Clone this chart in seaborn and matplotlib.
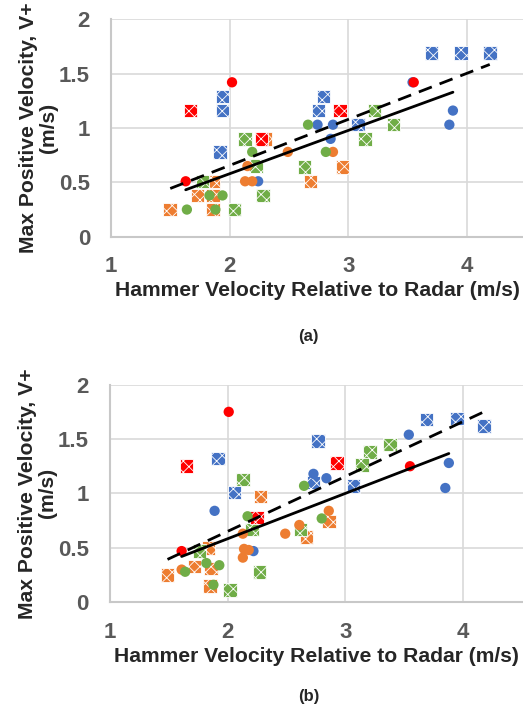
import numpy as np
import pandas as pd
import matplotlib.pyplot as plt
import seaborn as sns

sns.set_theme(style="white")
plt.rcParams['font.family'] = ['Liberation Sans', 'DejaVu Sans']
plt.rcParams['hatch.linewidth'] = 0.6

# colours of the four test groups
colors = {'blue': '#4472C4', 'orange': '#ED7D31', 'green': '#70AD47', 'red': '#FF0000'}

# ---- panel (a) data: circles and squares per group ----
a_circles = {
    'blue':   ([2.74, 2.87, 2.85, 3.88, 3.85, 3.54, 2.24], [1.03, 1.03, 0.90, 1.16, 1.03, 1.42, 0.51]),
    'orange': ([2.49, 2.87, 2.15, 2.13, 2.19], [0.78, 0.78, 0.65, 0.51, 0.51]),
    'green':  ([2.66, 2.81, 2.19, 1.83, 1.94, 1.64, 1.88], [1.03, 0.78, 0.78, 0.38, 0.38, 0.25, 0.25]),
    'red':    ([2.02, 3.55, 1.63], [1.42, 1.42, 0.51]),
}
a_squares = {
    'blue':   ([3.70, 3.95, 4.19, 1.94, 1.94, 1.92, 2.79, 2.75, 3.08],
               [1.69, 1.69, 1.69, 1.29, 1.16, 0.78, 1.29, 1.16, 1.03]),
    'orange': ([2.30, 2.95, 2.68, 1.86, 1.73, 1.86, 1.50, 1.86],
               [0.90, 0.64, 0.51, 0.51, 0.38, 0.38, 0.25, 0.25]),
    'green':  ([2.13, 3.22, 3.38, 3.14, 2.63, 2.22, 1.77, 2.28, 2.04],
               [0.90, 1.16, 1.03, 0.90, 0.64, 0.65, 0.51, 0.38, 0.25]),
    'red':    ([1.67, 2.93, 2.27], [1.16, 1.16, 0.90]),
}

# ---- panel (b) data ----
b_circles = {
    'blue':   ([3.54, 3.88, 3.85, 2.73, 2.84, 1.89, 2.22], [1.54, 1.28, 1.05, 1.18, 1.14, 0.84, 0.47]),
    'orange': ([2.86, 2.61, 2.49, 2.13, 2.14, 2.18, 2.13, 1.61], [0.84, 0.71, 0.63, 0.63, 0.49, 0.48, 0.41, 0.30]),
    'green':  ([2.65, 2.80, 2.17, 1.82, 1.93, 1.64, 1.88], [1.07, 0.77, 0.79, 0.36, 0.34, 0.28, 0.16]),
    'red':    ([2.01, 3.55, 1.61], [1.75, 1.25, 0.47]),
}
b_squares = {
    'blue':   ([3.69, 3.95, 4.18, 2.77, 1.92, 2.06, 2.73, 3.07],
               [1.68, 1.69, 1.62, 1.48, 1.32, 1.01, 1.10, 1.07]),
    'orange': ([2.28, 2.86, 2.67, 1.84, 1.72, 1.86, 1.49, 1.85],
               [0.97, 0.74, 0.60, 0.50, 0.33, 0.31, 0.25, 0.15]),
    'green':  ([2.13, 3.21, 3.38, 3.14, 2.62, 2.21, 1.76, 2.27, 2.02],
               [1.13, 1.38, 1.45, 1.26, 0.67, 0.67, 0.47, 0.28, 0.11]),
    'red':    ([1.65, 2.93, 2.25], [1.25, 1.28, 0.78]),
}

x_ticks = [1, 2, 3, 4]
y_ticks = [0, 0.5, 1, 1.5, 2]
x_label = 'Hammer Velocity Relative to Radar (m/s)'
y_label = 'Max Positive Velocity, V+\n(m/s)'


def pool(groups):
    xs = np.concatenate([np.array(v[0]) for v in groups.values()])
    ys = np.concatenate([np.array(v[1]) for v in groups.values()])
    return xs, ys


def draw_panel(ax, circles, squares, xmax, caption, cap_y):
    for g in ['blue', 'orange', 'green', 'red']:
        x, y = squares[g]
        sns.scatterplot(x=x, y=y, ax=ax, marker='s', s=95, color=colors[g],
                        edgecolor='white', linewidth=0.6, zorder=3)
        ax.collections[-1].set_hatch('xxx')
    for g in ['blue', 'orange', 'green', 'red']:
        x, y = circles[g]
        sns.scatterplot(x=x, y=y, ax=ax, marker='o', s=55, color=colors[g],
                        edgecolor='none', linewidth=0, zorder=4)

    # linear trend lines: circles solid, squares dashed
    for grp, ls in [(circles, '-'), (squares, (0, (5, 3)))]:
        xs, ys = pool(grp)
        k, b = np.polyfit(xs, ys, 1)
        xx = np.array([xs.min(), xs.max()])
        ax.plot(xx, k * xx + b, color='black', lw=2, ls=ls, zorder=5)

    ax.set_xlim(1, xmax)
    ax.set_ylim(0, 2)
    ax.set_xticks(x_ticks)
    ax.set_yticks(y_ticks)
    ax.set_yticklabels(['0', '0.5', '1', '1.5', '2'])
    ax.grid(True, color='#d9d9d9', lw=1.2)
    ax.set_axisbelow(True)
    for s in ['top', 'right']:
        ax.spines[s].set_visible(False)
    for s in ['left', 'bottom']:
        ax.spines[s].set_color('#c8c8c8')
        ax.spines[s].set_linewidth(1.5)
    ax.tick_params(axis='y', length=0, labelsize=16, labelcolor='#595959', pad=15)
    ax.tick_params(axis='x', length=0, labelsize=16, labelcolor='#595959', pad=14)
    for t in ax.get_xticklabels() + ax.get_yticklabels():
        t.set_fontweight('bold')
    ax.set_xlabel(x_label, fontsize=15.2, fontweight='bold', labelpad=3)
    ax.set_ylabel(y_label, fontsize=15.2, fontweight='bold', labelpad=1, linespacing=1.05)
    ax.text(0.59, cap_y, caption, transform=plt.gcf().transFigure, ha='center', va='center',
            fontsize=12, fontweight='bold')


fig = plt.figure(figsize=(5.23, 7.11), dpi=100)
ax1 = fig.add_axes([0.212, 0.667, 0.788, 0.306])
ax2 = fig.add_axes([0.210, 0.153, 0.790, 0.306])
draw_panel(ax1, a_circles, a_squares, 4.47, '(a)', 1 - 336 / 711)
draw_panel(ax2, b_circles, b_squares, 4.51, '(b)', 1 - 697 / 711)

fig.savefig('out.png', dpi=100)
